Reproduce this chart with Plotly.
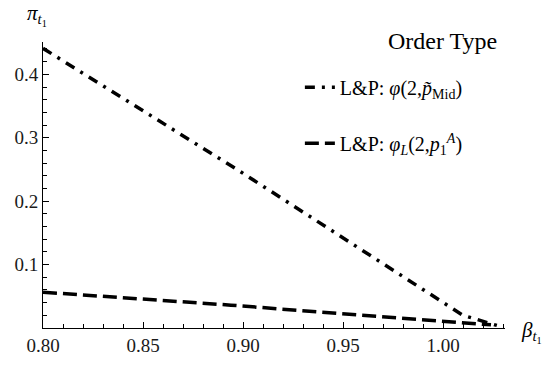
import plotly.graph_objects as go

# Data
beta_mid = [0.80, 0.898, 1.010, 1.027]
pi_mid = [0.441, 0.248, 0.020, 0.004]

beta_lim = [0.80, 0.894, 0.947, 1.024]
pi_lim = [0.0565, 0.036, 0.023, 0.005]

x_ticks = [0.80, 0.85, 0.90, 0.95, 1.00]
x_ticklabels = ["0.80", "0.85", "0.90", "0.95", "1.00"]
y_ticks = [0.1, 0.2, 0.3, 0.4]
y_ticklabels = ["0.1", "0.2", "0.3", "0.4"]

legend_title = "Order Type"
name_mid = "L&amp;P: <i>φ</i>(2,<i>p̃</i><sub>Mid</sub>)"
name_lim = "L&amp;P: <i>φ</i><sub><i>L</i></sub>(2,<i>p</i><sub>1</sub><sup><i>A</i></sup>)"

SERIF = "Liberation Serif"

fig = go.Figure()
fig.add_trace(go.Scatter(
    x=beta_mid, y=pi_mid, mode="lines", name=name_mid, legendgroup="a",
    line=dict(color="black", width=3.5, dash="10px,7px,3px,7px"), cliponaxis=False,
))
fig.add_trace(go.Scatter(
    x=beta_lim, y=pi_lim, mode="lines", name=name_lim, legendgroup="b",
    line=dict(color="black", width=3.5, dash="14px,6px"), cliponaxis=False,
))

axis_common = dict(
    showline=True, linecolor="black", linewidth=1, showgrid=False, zeroline=False,
    ticks="inside", ticklen=6, tickcolor="black", tickwidth=1,
    tickfont=dict(family=SERIF, size=19, color="#1a1a1a"),
)

fig.update_layout(
    width=550, height=368,
    margin=dict(l=43, r=45, t=42, b=33, pad=0),
    paper_bgcolor="white", plot_bgcolor="white",
    font=dict(family=SERIF),
    xaxis=dict(range=[0.80, 1.031], tickvals=x_ticks, ticktext=x_ticklabels,
               minor=dict(tick0=0.80, dtick=0.01, ticks="inside", ticklen=4, tickcolor="black"),
               **axis_common),
    yaxis=dict(range=[0, 0.451], tickvals=y_ticks, ticktext=y_ticklabels,
               minor=dict(tick0=0, dtick=0.02, ticks="inside", ticklen=4, tickcolor="black"),
               **axis_common),
    legend=dict(
        x=0.556, y=0.91, xanchor="left", yanchor="top",
        bgcolor="rgba(0,0,0,0)", tracegroupgap=27,
        font=dict(family=SERIF, size=20, color="black"),
    ),
    showlegend=True,
    annotations=[
        dict(text=legend_title, xref="paper", yref="paper",
             x=(442 - 43) / 462, y=(335 - 41) / 293, xanchor="center", yanchor="middle", showarrow=False,
             font=dict(family=SERIF, size=24, color="black")),
        dict(text="<i>π</i><sub><i>t</i><sub>1</sub></sub>", xref="paper", yref="paper",
             x=-0.04, y=1.0, xanchor="left", yanchor="bottom", yshift=11, showarrow=False,
             font=dict(family=SERIF, size=21, color="black")),
        dict(text="<i>β</i><sub><i>t</i><sub>1</sub></sub>", xref="paper", yref="paper",
             x=1.0, y=0.0, xanchor="left", yanchor="middle", xshift=14, yshift=-4, showarrow=False,
             font=dict(family=SERIF, size=21, color="black")),
    ],
)

fig.write_html("out.html")
